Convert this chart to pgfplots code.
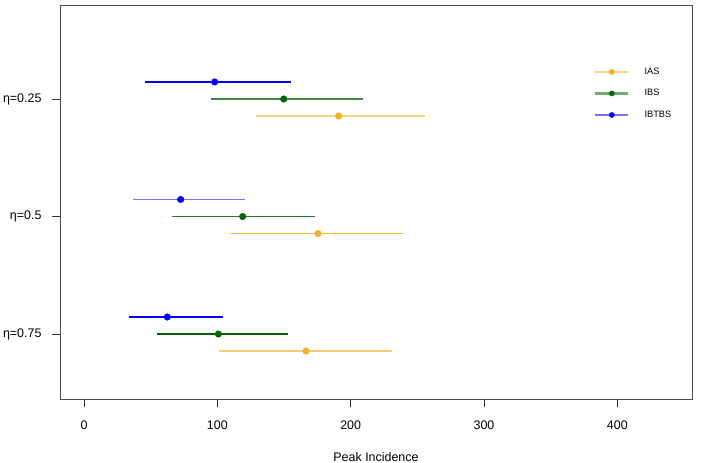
\documentclass[border=0pt]{standalone}
\usepackage{fontspec}
\setmainfont{Liberation Sans}
\usepackage{pgfplots}
\pgfplotsset{compat=1.18}

\definecolor{ias}{RGB}{242,176,40}
\definecolor{ibs}{RGB}{0,100,0}
\definecolor{ibtbs}{RGB}{0,0,255}

% rows: group position (1 = eta 0.25, 2 = 0.5, 3 = 0.75), point estimate
\pgfplotstableread{
pos mid
1.145 191.0
2.145 175.5
3.145 166.5
}\ias
\pgfplotstableread{
pos mid
1.0 149.8
2.0 119.0
3.0 100.8
}\ibs
\pgfplotstableread{
pos mid
0.855 98.0
1.855 72.5
2.855 62.5
}\ibtbs

\begin{document}
\begin{tikzpicture}
\useasboundingbox (-60bp,-64bp) rectangle (649bp,399bp);
\begin{axis}[
    scale only axis,
    width=632bp, height=394bp,
    xmin=-18, xmax=456,
    ymin=0.2, ymax=3.553,
    y dir=reverse,
    xtick={0,100,200,300,400},
    ytick={1,2,3},
    yticklabels={{η=0.25},{η=0.5},{η=0.75}},
    xtick pos=lower, ytick pos=left,
    tick align=outside,
    major tick length=8bp,
    tick style={black!80, line width=0.8bp},
    axis line style={black!70, line width=0.8bp},
    /pgf/number format/assume math mode=true,
    tick label style={font=\fontsize{12.5}{14}\selectfont},
    xticklabel style={yshift=-10bp},
    yticklabel style={xshift=-7bp},
    xlabel={Peak Incidence},
    xlabel style={font=\fontsize{12.5}{14}\selectfont, at={(axis description cs:0.5,0)}, anchor=center, yshift=-58bp},
    legend style={draw=none, fill=none, at={(axis cs:382.5,0.725)}, anchor=north west,
        font=\fontsize{9.3}{10}\selectfont, row sep=11.6bp, inner sep=0pt,
        nodes={inner sep=1pt}},
    legend cell align=left,
]
% interval lines, one for each group, each with its own shade
\addplot[forget plot, ias!55!white, line width=1.2bp] coordinates {(129.0,1.145)(255.8,1.145)};
\addplot[forget plot, ias!90!white, line width=1.2bp] coordinates {(109.5,2.145)(239.5,2.145)};
\addplot[forget plot, ias!65!white, line width=1.2bp] coordinates {(101.5,3.145)(230.8,3.145)};
\addplot[forget plot, ibs!75!white, line width=1.2bp] coordinates {(95.0,1.0)(209.0,1.0)};
\addplot[forget plot, ibs!85!white, line width=1.2bp] coordinates {(65.8,2.0)(173.3,2.0)};
\addplot[forget plot, ibs, line width=1.2bp] coordinates {(54.8,3.0)(153.3,3.0)};
\addplot[forget plot, ibtbs, line width=1.2bp] coordinates {(45.8,0.855)(155.3,0.855)};
\addplot[forget plot, ibtbs!55!white, line width=1.2bp] coordinates {(37.0,1.855)(120.8,1.855)};
\addplot[forget plot, ibtbs, line width=1.2bp] coordinates {(34.0,2.855)(104.5,2.855)};
% point estimates
\addplot[forget plot, only marks, mark=*, mark size=3.3bp, ias, mark options={draw=none}] table[x=mid, y=pos] {\ias};
\addplot[forget plot, only marks, mark=*, mark size=3.3bp, ibs, mark options={draw=none}] table[x=mid, y=pos] {\ibs};
\addplot[forget plot, only marks, mark=*, mark size=3.3bp, ibtbs, mark options={draw=none}] table[x=mid, y=pos] {\ibtbs};

\addlegendimage{legend image code/.code={\draw[ias!55!white, line width=2.2bp] (0bp,0bp) -- (33bp,0bp); \fill[ias] (16.5bp,0bp) circle (2.6bp); \path (48bp,0bp);}}
\addlegendentry{IAS}
\addlegendimage{legend image code/.code={\draw[ibs!55!white, line width=2.2bp] (0bp,0bp) -- (33bp,0bp); \fill[ibs] (16.5bp,0bp) circle (2.6bp); \path (48bp,0bp);}}
\addlegendentry{IBS}
\addlegendimage{legend image code/.code={\draw[ibtbs!55!white, line width=2.2bp] (0bp,0bp) -- (33bp,0bp); \fill[ibtbs] (16.5bp,0bp) circle (2.6bp); \path (48bp,0bp);}}
\addlegendentry{IBTBS}
\end{axis}
\end{tikzpicture}
\end{document}
